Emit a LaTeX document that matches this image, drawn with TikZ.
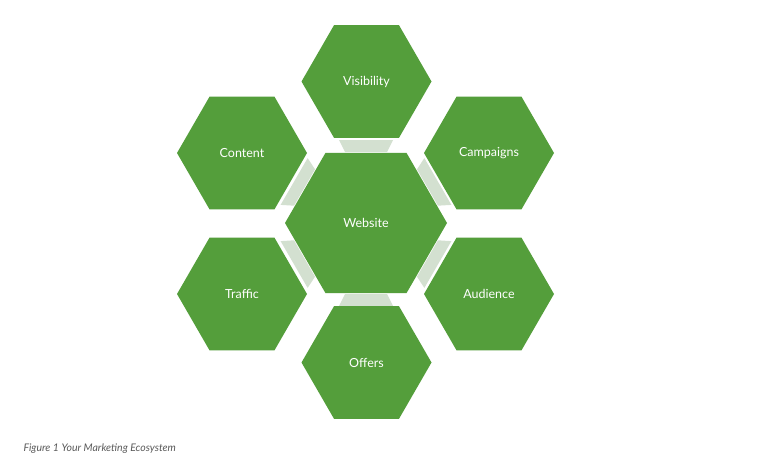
\documentclass[tikz,border=0pt]{standalone}
\usepackage{fontspec}
\setmainfont{Lato}
\usetikzlibrary{shapes.geometric}
\definecolor{hexgreen}{HTML}{549E3B}
\definecolor{linkgray}{HTML}{D3E0D0}
\definecolor{capgray}{HTML}{5A5A5A}
\begin{document}
\begin{tikzpicture}[x=1pt,y=-1pt,
  hexbox/.style={regular polygon,regular polygon sides=6,fill=hexgreen,draw=none,
    text=white,font=\fontsize{12.5}{14}\selectfont,inner sep=0pt},
  small/.style={hexbox,minimum size=130pt},
  big/.style={hexbox,minimum size=162pt},
  link/.style={fill=linkgray,draw=none}]
\useasboundingbox (0,0) rectangle (768,469);
\fill[white] (0,0) rectangle (768,469);
\node[big] (web) at (366,223) {Website};
\foreach \a in {90,30,-30,-90,-150,150}{
  \fill[link,shift={(366,223)},rotate=-\a]
    (71,-21) -- (83,-27) -- (83,27) -- (71,21) -- cycle;
}
\node[small] (vis) at (366.5,81.5) {Visibility};
\node[small] (con) at (242,153) {Content};
\node[small] (cam) at (489,153) {Campaigns};
\node[small] (tra) at (242,294) {Traffic};
\node[small] (aud) at (489,294) {Audience};
\node[small] (off) at (366.5,362.5) {Offers};
\node[anchor=west,text=capgray,font=\fontsize{10.5}{12}\selectfont\itshape] (cap) at (20,449) {Figure 1 Your Marketing Ecosystem};
\end{tikzpicture}
\end{document}
